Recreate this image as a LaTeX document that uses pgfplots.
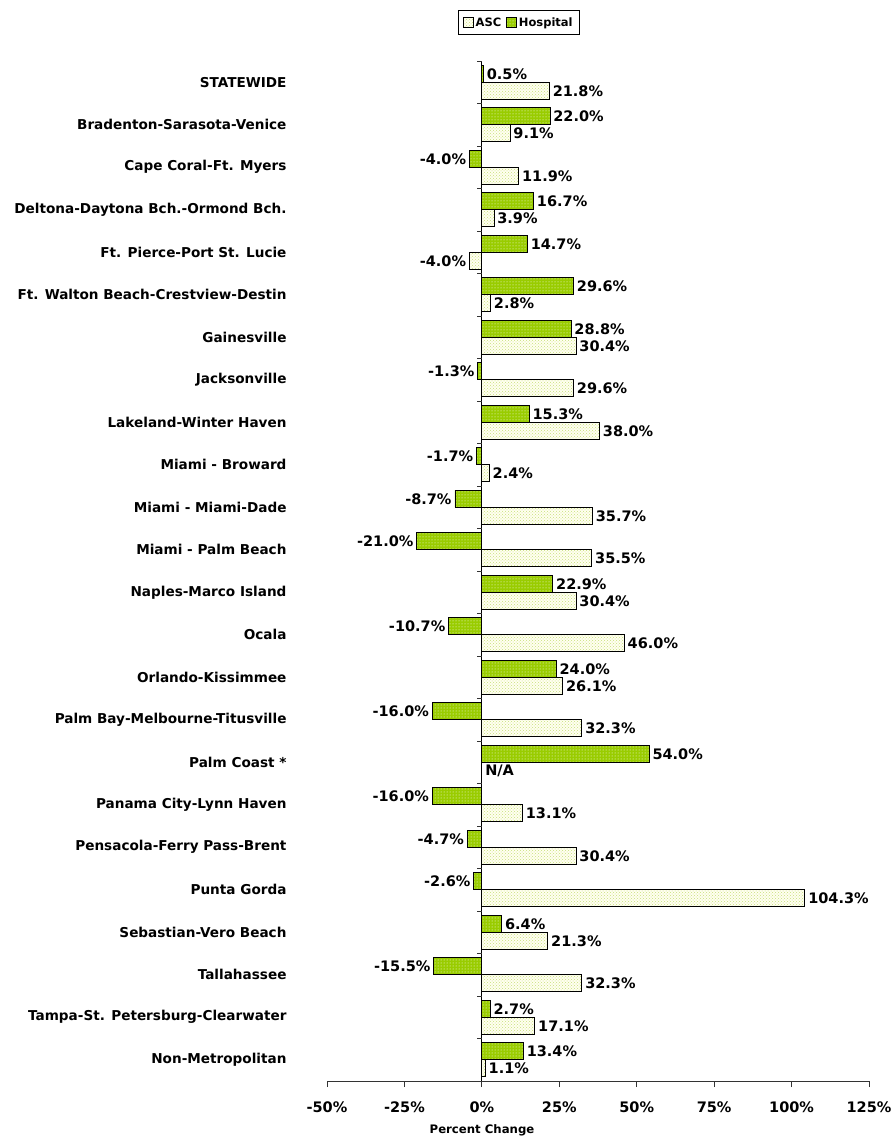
\documentclass[border=0pt]{standalone}
\usepackage{fontspec}
\setmainfont{DejaVu Sans}
\usepackage{pgfplots}
\usepackage{pgfplotstable}
\pgfplotsset{compat=1.18}
\usetikzlibrary{patterns}
\definecolor{hospgreen}{HTML}{99CC00}
\definecolor{ascfill}{HTML}{FFFFF0}
\definecolor{ascdot}{HTML}{C8E07A}

% y = position (0 = bottom), hosp, asc, labels
\pgfplotstableread{
y hosp hlab asc alab
23 0.5 0.5\% 21.8 21.8\%
22 22.0 22.0\% 9.1 9.1\%
21 -4.0 -4.0\% 11.9 11.9\%
20 16.7 16.7\% 3.9 3.9\%
19 14.7 14.7\% -4.0 -4.0\%
18 29.6 29.6\% 2.8 2.8\%
17 28.8 28.8\% 30.4 30.4\%
16 -1.3 -1.3\% 29.6 29.6\%
15 15.3 15.3\% 38.0 38.0\%
14 -1.7 -1.7\% 2.4 2.4\%
13 -8.7 -8.7\% 35.7 35.7\%
12 -21.0 -21.0\% 35.5 35.5\%
11 22.9 22.9\% 30.4 30.4\%
10 -10.7 -10.7\% 46.0 46.0\%
9 24.0 24.0\% 26.1 26.1\%
8 -16.0 -16.0\% 32.3 32.3\%
7 54.0 54.0\% 0 N/A
6 -16.0 -16.0\% 13.1 13.1\%
5 -4.7 -4.7\% 30.4 30.4\%
4 -2.6 -2.6\% 104.3 104.3\%
3 6.4 6.4\% 21.3 21.3\%
2 -15.5 -15.5\% 32.3 32.3\%
1 2.7 2.7\% 17.1 17.1\%
0 13.4 13.4\% 1.1 1.1\%
}\datatable

\begin{document}
\begin{tikzpicture}[x=1pt,y=1pt]
\useasboundingbox (0,0) rectangle (893,1137);
\begin{axis}[
  at={(327pt,56pt)}, anchor=south west,
  scale only axis, width=542pt, height=1020pt,
  xbar, bar width=17pt,
  xmin=-50, xmax=125, ymin=-0.5, ymax=23.5,
  axis x line*=bottom, axis y line*=left,
  y axis line style={draw=none},
  x axis line style={line width=0.8pt, color=black!80},
  xtick={-50,-25,0,25,50,75,100,125},
  xticklabel={\pgfmathprintnumber{\tick}\%},
  /pgf/number format/assume math mode=true,
  xtick style={line width=0.8pt, color=black!80},
  tick align=outside, major tick length=6pt,
  ytick={0,...,23},
  ytick style={draw=none},
  yticklabels={Non-Metropolitan,Tampa-St. Petersburg-Clearwater,Tallahassee,Sebastian-Vero Beach,Punta Gorda,Pensacola-Ferry Pass-Brent,Panama City-Lynn Haven,Palm Coast *,Palm Bay-Melbourne-Titusville,Orlando-Kissimmee,Ocala,Naples-Marco Island,Miami - Palm Beach,Miami - Miami-Dade,Miami - Broward,Lakeland-Winter Haven,Jacksonville,Gainesville,Ft. Walton Beach-Crestview-Destin,Ft. Pierce-Port St. Lucie,Deltona-Daytona Bch.-Ormond Bch.,Cape Coral-Ft. Myers,Bradenton-Sarasota-Venice,STATEWIDE},
  yticklabel style={xshift=-31pt, font=\fontsize{13.6}{15}\selectfont\bfseries},
  xticklabel style={yshift=-11pt, font=\fontsize{14.5}{16}\selectfont\bfseries},
  xlabel={Percent Change},
  xlabel style={font=\fontsize{11.7}{14}\selectfont\bfseries, at={(rel axis cs:0.286,0)}, anchor=north, yshift=-40pt},
  legend style={at={(0.354,1.05)}, anchor=north, legend columns=-1, draw=black, line width=0.8pt, font=\fontsize{11.5}{13}\selectfont\bfseries, inner sep=5pt, /tikz/every even column/.append style={column sep=3pt}},
  legend image code/.code={\draw[#1, line width=0.6pt] (0pt,-5pt) rectangle (10pt,5pt);},
  nodes near coords={\pgfplotspointmeta}, point meta=explicit symbolic,
  visualization depends on={rawx \as \rawx},
  every node near coord/.append style={font=\fontsize{14.5}{16}\selectfont\bfseries, inner sep=3pt,
     /utils/exec={\pgfmathparse{\rawx<0}\ifdim\pgfmathresult pt>0.5pt \def\myanc{east}\else\def\myanc{west}\fi},
     anchor=\myanc},
  clip=false,
]
\addplot[bar shift=-8.5pt, draw=black, line width=0.8pt, fill=ascfill, postaction={pattern=crosshatch dots, pattern color=ascdot}]
  table[x=asc, y=y, meta=alab] {\datatable};
\addlegendentry{ASC}
\addplot[bar shift=8.5pt, draw=black, line width=0.8pt, fill=hospgreen, postaction={pattern=dots, pattern color=white}]
  table[x=hosp, y=y, meta=hlab] {\datatable};
\addlegendentry{Hospital}
\draw[line width=0.8pt] (axis cs:0,-0.5) -- (axis cs:0,23.5);
\pgfplotsinvokeforeach{0,...,24}{
  \draw[line width=0.8pt, color=black!80] (axis cs:0,#1-0.5) -- ++(-5pt,0pt);
}
\end{axis}
\end{tikzpicture}
\end{document}
